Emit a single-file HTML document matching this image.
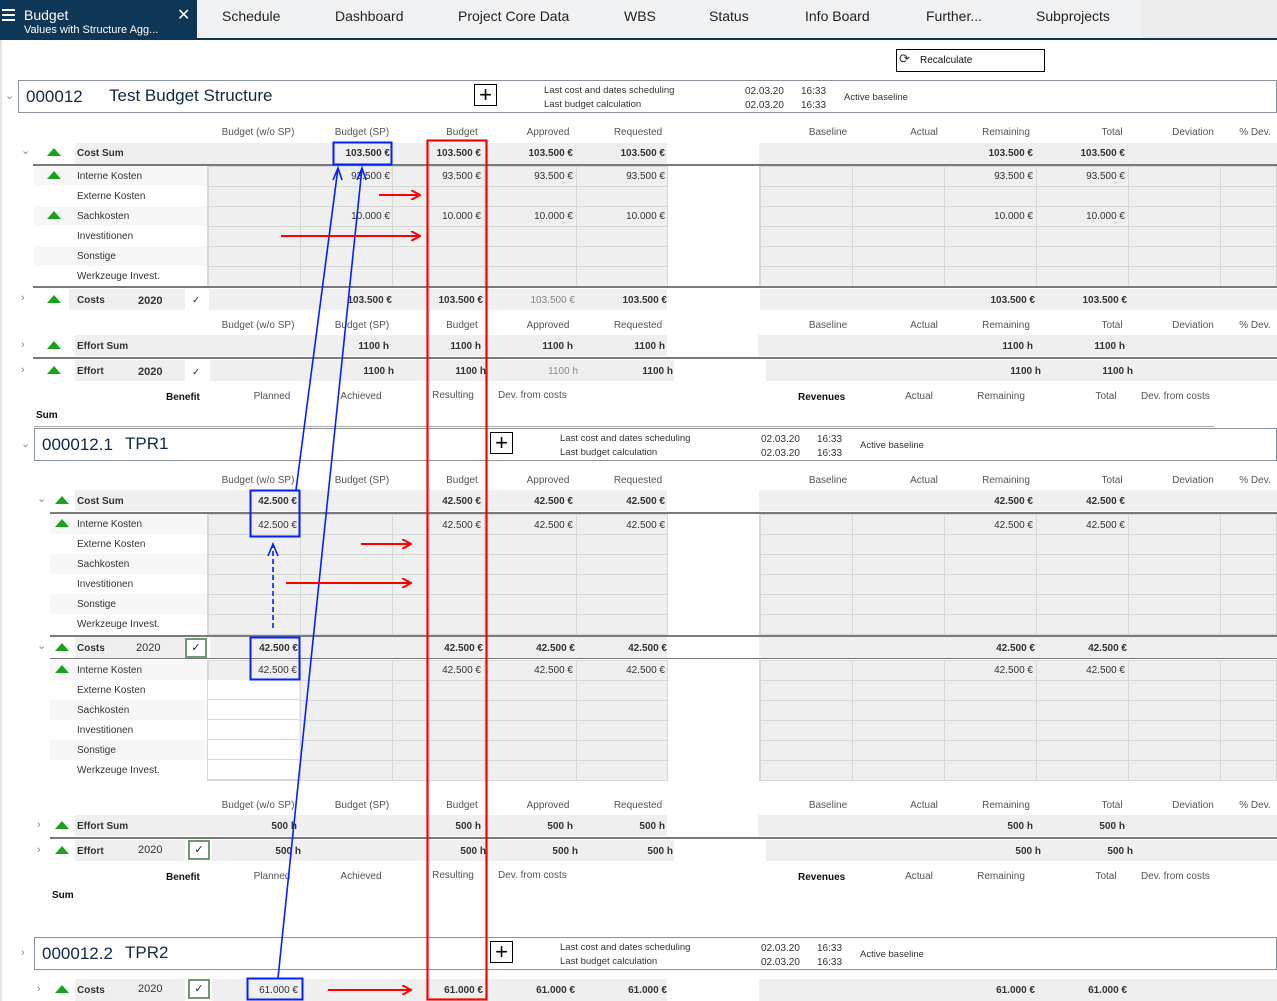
<!DOCTYPE html>
<html><head><meta charset="utf-8"><style>
*{margin:0;padding:0;box-sizing:border-box}
body{width:1277px;height:1001px;position:relative;overflow:hidden;background:#fff;font-family:"Liberation Sans",sans-serif}
.a{position:absolute;white-space:nowrap;font-size:10px;line-height:12px;color:#333;margin-top:1px}
.v{position:absolute;white-space:nowrap;font-size:10px;line-height:12px;color:#333;width:90px;text-align:right;margin-top:1px}
.c{position:absolute;white-space:nowrap;font-size:10px;line-height:12px;color:#555;width:120px;text-align:center;margin-top:1px}
.b{font-weight:bold}
.g{color:#888}
.bg{position:absolute;background:#efefef}
.gr{position:absolute;background-color:#efefef;background-image:repeating-linear-gradient(90deg,#d8d8d8 0 1px,transparent 1px 92px),repeating-linear-gradient(180deg,transparent 0 19px,#d8d8d8 19px 20px);border:1px solid #d8d8d8}
.ln{position:absolute;height:2px;background:#7a7a7a}
.tri{position:absolute;width:0;height:0;border-left:7px solid transparent;border-right:7px solid transparent;border-bottom:8px solid #1aa31a}
.chev{position:absolute;font-size:11px;color:#888;line-height:12px}
.box{position:absolute;border:1px solid #8a929c;background:#fff}
.plus{position:absolute;width:23px;height:22px;border:1.5px solid #000;font-size:22px;line-height:19px;text-align:center;color:#000}
.cb{position:absolute;width:22px;height:20px;border:2px solid #6f9a6f;background:#fff;font-size:11px;text-align:center;line-height:16px;color:#222}
.lab{position:absolute;height:20px}
</style></head><body>
<div style="position:absolute;left:0;top:0;width:1277px;height:38px;background:#f1f2f4"></div>
<div style="position:absolute;left:1141px;top:0;width:136px;height:38px;background:#ececec"></div>
<div style="position:absolute;left:0;top:0;width:197px;height:38px;background:#0e3657"></div>
<div style="position:absolute;left:0;top:38px;width:1277px;height:2px;background:#0e3657"></div>
<div style="position:absolute;left:2px;top:9px;width:13px;height:2px;background:#fff;box-shadow:0 5px 0 #fff,0 10px 0 #fff"></div>
<div class="a" style="left:24px;top:6px;font-size:14px;line-height:16px;color:#fff">Budget</div>
<div class="a" style="left:24px;top:23px;font-size:11px;line-height:12px;color:#fff">Values with Structure Agg...</div>
<div class="a" style="left:177px;top:6px;font-size:16px;line-height:18px;color:#fff">✕</div>
<div class="a" style="left:222px;top:7px;font-size:14px;line-height:16px;color:#222">Schedule</div>
<div class="a" style="left:335px;top:7px;font-size:14px;line-height:16px;color:#222">Dashboard</div>
<div class="a" style="left:458px;top:7px;font-size:14px;line-height:16px;color:#222">Project Core Data</div>
<div class="a" style="left:624px;top:7px;font-size:14px;line-height:16px;color:#222">WBS</div>
<div class="a" style="left:709px;top:7px;font-size:14px;line-height:16px;color:#222">Status</div>
<div class="a" style="left:805px;top:7px;font-size:14px;line-height:16px;color:#222">Info Board</div>
<div class="a" style="left:926px;top:7px;font-size:14px;line-height:16px;color:#222">Further...</div>
<div class="a" style="left:1036px;top:7px;font-size:14px;line-height:16px;color:#222">Subprojects</div>
<div style="position:absolute;left:0;top:40px;width:2px;height:961px;background:#e6e6e6"></div>
<div style="position:absolute;left:896px;top:49px;width:149px;height:23px;border:1.5px solid #000"></div>
<div class="a" style="left:899px;top:52px;font-size:13px;color:#333">⟳</div>
<div class="a" style="left:920px;top:54px;color:#111">Recalculate</div>

<div class="chev" style="left:5px;top:90px">⌄</div>
<div class="box" style="left:18px;top:80px;width:1259px;height:33px"></div>
<div class="a" style="left:26px;top:86px;font-size:17px;line-height:19px;color:#0e2a44">000012</div>
<div class="a" style="left:109px;top:85px;font-size:17px;line-height:19px;color:#0e2a44">Test Budget Structure</div>
<div class="plus" style="left:474px;top:84px">+</div>
<div class="a" style="left:544px;top:84px;font-size:9.5px">Last cost and dates scheduling</div>
<div class="a" style="left:544px;top:98px;font-size:9.5px">Last budget calculation</div>
<div class="a" style="left:745px;top:85px">02.03.20</div><div class="a" style="left:801px;top:85px">16:33</div>
<div class="a" style="left:745px;top:99px">02.03.20</div><div class="a" style="left:801px;top:99px">16:33</div>
<div class="a" style="left:844px;top:91px;font-size:9.5px">Active baseline</div>

<div class="c" style="left:198px;top:126px">Budget (w/o SP)</div>
<div class="c" style="left:302px;top:126px">Budget (SP)</div>
<div class="c" style="left:402px;top:126px">Budget</div>
<div class="c" style="left:488px;top:126px">Approved</div>
<div class="c" style="left:578px;top:126px">Requested</div>
<div class="c" style="left:768px;top:126px">Baseline</div>
<div class="c" style="left:864px;top:126px">Actual</div>
<div class="c" style="left:946px;top:126px">Remaining</div>
<div class="c" style="left:1052px;top:126px">Total</div>
<div class="c" style="left:1133px;top:126px">Deviation</div>
<div class="c" style="left:1195px;top:126px">% Dev.</div>

<div class="bg" style="left:75px;top:143px;width:592px;height:21px"></div>
<div class="bg" style="left:759px;top:143px;width:518px;height:21px"></div>
<div class="chev" style="left:21px;top:145px">⌄</div>
<div class="tri" style="left:47px;top:148px"></div>
<div class="a b" style="left:77px;top:147px">Cost Sum</div>
<div class="v b" style="left:300px;top:147px">103.500 €</div>
<div class="v b" style="left:391px;top:147px">103.500 €</div>
<div class="v b" style="left:483px;top:147px">103.500 €</div>
<div class="v b" style="left:575px;top:147px">103.500 €</div>
<div class="v b" style="left:943px;top:147px">103.500 €</div>
<div class="v b" style="left:1035px;top:147px">103.500 €</div>
<div class="ln" style="left:33px;top:164px;width:1244px"></div>
<div class="lab" style="left:34px;top:166px;width:173px;background:#f7f7f7"></div>
<div class="lab" style="left:34px;top:206px;width:173px;background:#f7f7f7"></div>
<div class="lab" style="left:34px;top:246px;width:173px;background:#f7f7f7"></div>
<div class="gr" style="left:207px;top:166px;width:461px;height:121px"></div>
<div class="gr" style="left:759px;top:166px;width:518px;height:121px"></div>
<div class="tri" style="left:47px;top:171px"></div>
<div class="tri" style="left:47px;top:211px"></div>
<div class="a" style="left:77px;top:170px">Interne Kosten</div>
<div class="a" style="left:77px;top:190px">Externe Kosten</div>
<div class="a" style="left:77px;top:210px">Sachkosten</div>
<div class="a" style="left:77px;top:230px">Investitionen</div>
<div class="a" style="left:77px;top:250px">Sonstige</div>
<div class="a" style="left:77px;top:270px">Werkzeuge Invest.</div>
<div class="v" style="left:300px;top:170px">93.500 €</div>
<div class="v" style="left:391px;top:170px">93.500 €</div>
<div class="v" style="left:483px;top:170px">93.500 €</div>
<div class="v" style="left:575px;top:170px">93.500 €</div>
<div class="v" style="left:943px;top:170px">93.500 €</div>
<div class="v" style="left:1035px;top:170px">93.500 €</div>
<div class="v" style="left:300px;top:210px">10.000 €</div>
<div class="v" style="left:391px;top:210px">10.000 €</div>
<div class="v" style="left:483px;top:210px">10.000 €</div>
<div class="v" style="left:575px;top:210px">10.000 €</div>
<div class="v" style="left:943px;top:210px">10.000 €</div>
<div class="v" style="left:1035px;top:210px">10.000 €</div>
<div class="ln" style="left:33px;top:286px;width:1244px"></div>
<div class="bg" style="left:69px;top:289px;width:116px;height:21px"></div>
<div class="bg" style="left:209px;top:289px;width:458px;height:21px"></div>
<div class="bg" style="left:760px;top:289px;width:517px;height:21px"></div>
<div class="chev" style="left:21px;top:292px">›</div>
<div class="tri" style="left:47px;top:295px"></div>
<div class="a b" style="left:77px;top:294px">Costs</div>
<div class="a b" style="left:138px;top:294px;font-size:11px">2020</div>
<div class="a" style="left:192px;top:294px">✓</div>
<div class="v b" style="left:302px;top:294px">103.500 €</div>
<div class="v b" style="left:393px;top:294px">103.500 €</div>
<div class="v g" style="left:485px;top:294px">103.500 €</div>
<div class="v b" style="left:577px;top:294px">103.500 €</div>
<div class="v b" style="left:945px;top:294px">103.500 €</div>
<div class="v b" style="left:1037px;top:294px">103.500 €</div>
<div class="c" style="left:198px;top:319px">Budget (w/o SP)</div>
<div class="c" style="left:302px;top:319px">Budget (SP)</div>
<div class="c" style="left:402px;top:319px">Budget</div>
<div class="c" style="left:488px;top:319px">Approved</div>
<div class="c" style="left:578px;top:319px">Requested</div>
<div class="c" style="left:768px;top:319px">Baseline</div>
<div class="c" style="left:864px;top:319px">Actual</div>
<div class="c" style="left:946px;top:319px">Remaining</div>
<div class="c" style="left:1052px;top:319px">Total</div>
<div class="c" style="left:1133px;top:319px">Deviation</div>
<div class="c" style="left:1195px;top:319px">% Dev.</div>
<div class="bg" style="left:75px;top:335px;width:592px;height:21px"></div>
<div class="bg" style="left:758px;top:335px;width:519px;height:21px"></div>
<div class="chev" style="left:21px;top:339px">›</div>
<div class="tri" style="left:47px;top:341px"></div>
<div class="a b" style="left:77px;top:340px">Effort Sum</div>
<div class="v b" style="left:299px;top:340px">1100 h</div>
<div class="v b" style="left:391px;top:340px">1100 h</div>
<div class="v b" style="left:483px;top:340px">1100 h</div>
<div class="v b" style="left:575px;top:340px">1100 h</div>
<div class="v b" style="left:943px;top:340px">1100 h</div>
<div class="v b" style="left:1035px;top:340px">1100 h</div>
<div class="ln" style="left:33px;top:357px;width:1244px"></div>
<div class="bg" style="left:75px;top:360px;width:110px;height:21px"></div>
<div class="bg" style="left:210px;top:360px;width:464px;height:21px"></div>
<div class="bg" style="left:766px;top:360px;width:511px;height:21px"></div>
<div class="chev" style="left:21px;top:364px">›</div>
<div class="tri" style="left:47px;top:366px"></div>
<div class="a b" style="left:77px;top:365px">Effort</div>
<div class="a b" style="left:138px;top:365px;font-size:11px">2020</div>
<div class="a" style="left:192px;top:366px">✓</div>
<div class="v b" style="left:304px;top:365px">1100 h</div>
<div class="v b" style="left:396px;top:365px">1100 h</div>
<div class="v g" style="left:488px;top:365px">1100 h</div>
<div class="v b" style="left:583px;top:365px">1100 h</div>
<div class="v b" style="left:951px;top:365px">1100 h</div>
<div class="v b" style="left:1043px;top:365px">1100 h</div>
<div class="a b" style="left:166px;top:391px;color:#111">Benefit</div>
<div class="c" style="left:212px;top:390px">Planned</div>
<div class="c" style="left:301px;top:390px">Achieved</div>
<div class="c" style="left:393px;top:389px">Resulting</div>
<div class="a" style="left:498px;top:389px;color:#555">Dev. from costs</div>
<div class="a b" style="left:798px;top:391px;color:#111">Revenues</div>
<div class="c" style="left:859px;top:390px">Actual</div>
<div class="c" style="left:941px;top:390px">Remaining</div>
<div class="c" style="left:1046px;top:390px">Total</div>
<div class="a" style="left:1141px;top:390px;color:#555">Dev. from costs</div>
<div class="a b" style="left:36px;top:409px;color:#111">Sum</div>
<div style="position:absolute;left:34px;top:426px;width:1180px;height:1px;background:#aaa"></div>

<div class="chev" style="left:21px;top:438px">⌄</div>
<div class="box" style="left:34px;top:428px;width:1243px;height:33px"></div>
<div class="a" style="left:42px;top:434px;font-size:17px;line-height:19px;color:#0e2a44">000012.1</div>
<div class="a" style="left:125px;top:433px;font-size:17px;line-height:19px;color:#0e2a44">TPR1</div>
<div class="plus" style="left:490px;top:432px">+</div>
<div class="a" style="left:560px;top:432px;font-size:9.5px">Last cost and dates scheduling</div>
<div class="a" style="left:560px;top:446px;font-size:9.5px">Last budget calculation</div>
<div class="a" style="left:761px;top:433px">02.03.20</div><div class="a" style="left:817px;top:433px">16:33</div>
<div class="a" style="left:761px;top:447px">02.03.20</div><div class="a" style="left:817px;top:447px">16:33</div>
<div class="a" style="left:860px;top:439px;font-size:9.5px">Active baseline</div>

<div class="c" style="left:198px;top:474px">Budget (w/o SP)</div>
<div class="c" style="left:302px;top:474px">Budget (SP)</div>
<div class="c" style="left:402px;top:474px">Budget</div>
<div class="c" style="left:488px;top:474px">Approved</div>
<div class="c" style="left:578px;top:474px">Requested</div>
<div class="c" style="left:768px;top:474px">Baseline</div>
<div class="c" style="left:864px;top:474px">Actual</div>
<div class="c" style="left:946px;top:474px">Remaining</div>
<div class="c" style="left:1052px;top:474px">Total</div>
<div class="c" style="left:1133px;top:474px">Deviation</div>
<div class="c" style="left:1195px;top:474px">% Dev.</div>
<div class="bg" style="left:75px;top:490px;width:592px;height:21px"></div>
<div class="bg" style="left:759px;top:490px;width:518px;height:21px"></div>
<div class="chev" style="left:37px;top:493px">⌄</div>
<div class="tri" style="left:55px;top:496px"></div>
<div class="a b" style="left:77px;top:495px">Cost Sum</div>
<div class="v b" style="left:207px;top:495px">42.500 €</div>
<div class="v b" style="left:391px;top:495px">42.500 €</div>
<div class="v b" style="left:483px;top:495px">42.500 €</div>
<div class="v b" style="left:575px;top:495px">42.500 €</div>
<div class="v b" style="left:943px;top:495px">42.500 €</div>
<div class="v b" style="left:1035px;top:495px">42.500 €</div>
<div class="ln" style="left:50px;top:512px;width:1227px"></div>
<div class="lab" style="left:50px;top:514px;width:157px;background:#f7f7f7"></div>
<div class="lab" style="left:50px;top:554px;width:157px;background:#f7f7f7"></div>
<div class="lab" style="left:50px;top:594px;width:157px;background:#f7f7f7"></div>
<div class="gr" style="left:207px;top:514px;width:461px;height:121px"></div>
<div class="gr" style="left:759px;top:514px;width:518px;height:121px"></div>
<div class="tri" style="left:55px;top:519px"></div>
<div class="a" style="left:77px;top:518px">Interne Kosten</div>
<div class="a" style="left:77px;top:538px">Externe Kosten</div>
<div class="a" style="left:77px;top:558px">Sachkosten</div>
<div class="a" style="left:77px;top:578px">Investitionen</div>
<div class="a" style="left:77px;top:598px">Sonstige</div>
<div class="a" style="left:77px;top:618px">Werkzeuge Invest.</div>
<div class="v" style="left:207px;top:519px">42.500 €</div>
<div class="v" style="left:391px;top:519px">42.500 €</div>
<div class="v" style="left:483px;top:519px">42.500 €</div>
<div class="v" style="left:575px;top:519px">42.500 €</div>
<div class="v" style="left:943px;top:519px">42.500 €</div>
<div class="v" style="left:1035px;top:519px">42.500 €</div>
<div class="ln" style="left:50px;top:635px;width:1227px"></div>
<div class="bg" style="left:75px;top:637px;width:110px;height:21px"></div>
<div class="bg" style="left:210px;top:637px;width:457px;height:21px"></div>
<div class="bg" style="left:759px;top:637px;width:518px;height:21px"></div>
<div class="chev" style="left:37px;top:640px">⌄</div>
<div class="tri" style="left:55px;top:643px"></div>
<div class="a b" style="left:77px;top:642px">Costs</div>
<div class="a" style="left:136px;top:641px;font-size:11px">2020</div>
<div class="cb" style="left:185px;top:638px">✓</div>
<div class="v b" style="left:208px;top:642px">42.500 €</div>
<div class="v b" style="left:393px;top:642px">42.500 €</div>
<div class="v b" style="left:485px;top:642px">42.500 €</div>
<div class="v b" style="left:577px;top:642px">42.500 €</div>
<div class="v b" style="left:945px;top:642px">42.500 €</div>
<div class="v b" style="left:1037px;top:642px">42.500 €</div>
<div class="ln" style="left:50px;top:658px;width:1227px;height:1px"></div>
<div class="lab" style="left:50px;top:660px;width:157px;background:#f7f7f7"></div>
<div class="lab" style="left:50px;top:700px;width:157px;background:#f7f7f7"></div>
<div class="lab" style="left:50px;top:740px;width:157px;background:#f7f7f7"></div>
<div class="gr" style="left:207px;top:660px;width:461px;height:121px"></div>
<div style="position:absolute;left:208px;top:680px;width:91px;height:100px;background:#fff;background-image:repeating-linear-gradient(180deg,transparent 0 19px,#d8d8d8 19px 20px)"></div>
<div class="gr" style="left:759px;top:660px;width:518px;height:121px"></div>
<div class="tri" style="left:55px;top:665px"></div>
<div class="a" style="left:77px;top:664px">Interne Kosten</div>
<div class="a" style="left:77px;top:684px">Externe Kosten</div>
<div class="a" style="left:77px;top:704px">Sachkosten</div>
<div class="a" style="left:77px;top:724px">Investitionen</div>
<div class="a" style="left:77px;top:744px">Sonstige</div>
<div class="a" style="left:77px;top:764px">Werkzeuge Invest.</div>
<div class="v" style="left:207px;top:664px">42.500 €</div>
<div class="v" style="left:391px;top:664px">42.500 €</div>
<div class="v" style="left:483px;top:664px">42.500 €</div>
<div class="v" style="left:575px;top:664px">42.500 €</div>
<div class="v" style="left:943px;top:664px">42.500 €</div>
<div class="v" style="left:1035px;top:664px">42.500 €</div>
<div class="c" style="left:198px;top:799px">Budget (w/o SP)</div>
<div class="c" style="left:302px;top:799px">Budget (SP)</div>
<div class="c" style="left:402px;top:799px">Budget</div>
<div class="c" style="left:488px;top:799px">Approved</div>
<div class="c" style="left:578px;top:799px">Requested</div>
<div class="c" style="left:768px;top:799px">Baseline</div>
<div class="c" style="left:864px;top:799px">Actual</div>
<div class="c" style="left:946px;top:799px">Remaining</div>
<div class="c" style="left:1052px;top:799px">Total</div>
<div class="c" style="left:1133px;top:799px">Deviation</div>
<div class="c" style="left:1195px;top:799px">% Dev.</div>
<div class="bg" style="left:75px;top:815px;width:592px;height:21px"></div>
<div class="bg" style="left:758px;top:815px;width:519px;height:21px"></div>
<div class="chev" style="left:37px;top:819px">›</div>
<div class="tri" style="left:55px;top:821px"></div>
<div class="a b" style="left:77px;top:820px">Effort Sum</div>
<div class="v b" style="left:207px;top:820px">500 h</div>
<div class="v b" style="left:391px;top:820px">500 h</div>
<div class="v b" style="left:483px;top:820px">500 h</div>
<div class="v b" style="left:575px;top:820px">500 h</div>
<div class="v b" style="left:943px;top:820px">500 h</div>
<div class="v b" style="left:1035px;top:820px">500 h</div>
<div class="ln" style="left:50px;top:837px;width:1227px"></div>
<div class="bg" style="left:75px;top:840px;width:110px;height:21px"></div>
<div class="bg" style="left:212px;top:840px;width:462px;height:21px"></div>
<div class="bg" style="left:766px;top:840px;width:511px;height:21px"></div>
<div class="chev" style="left:37px;top:844px">›</div>
<div class="tri" style="left:55px;top:846px"></div>
<div class="a b" style="left:77px;top:845px">Effort</div>
<div class="a" style="left:138px;top:843px;font-size:11px">2020</div>
<div class="cb" style="left:188px;top:840px">✓</div>
<div class="v b" style="left:211px;top:845px">500 h</div>
<div class="v b" style="left:396px;top:845px">500 h</div>
<div class="v b" style="left:488px;top:845px">500 h</div>
<div class="v b" style="left:583px;top:845px">500 h</div>
<div class="v b" style="left:951px;top:845px">500 h</div>
<div class="v b" style="left:1043px;top:845px">500 h</div>
<div class="a b" style="left:166px;top:871px;color:#111">Benefit</div>
<div class="c" style="left:212px;top:870px">Planned</div>
<div class="c" style="left:301px;top:870px">Achieved</div>
<div class="c" style="left:393px;top:869px">Resulting</div>
<div class="a" style="left:498px;top:869px;color:#555">Dev. from costs</div>
<div class="a b" style="left:798px;top:871px;color:#111">Revenues</div>
<div class="c" style="left:859px;top:870px">Actual</div>
<div class="c" style="left:941px;top:870px">Remaining</div>
<div class="c" style="left:1046px;top:870px">Total</div>
<div class="a" style="left:1141px;top:870px;color:#555">Dev. from costs</div>
<div class="a b" style="left:52px;top:889px;color:#111">Sum</div>

<div class="chev" style="left:21px;top:947px">›</div>
<div class="box" style="left:34px;top:937px;width:1243px;height:33px"></div>
<div class="a" style="left:42px;top:943px;font-size:17px;line-height:19px;color:#0e2a44">000012.2</div>
<div class="a" style="left:125px;top:942px;font-size:17px;line-height:19px;color:#0e2a44">TPR2</div>
<div class="plus" style="left:490px;top:941px">+</div>
<div class="a" style="left:560px;top:941px;font-size:9.5px">Last cost and dates scheduling</div>
<div class="a" style="left:560px;top:955px;font-size:9.5px">Last budget calculation</div>
<div class="a" style="left:761px;top:942px">02.03.20</div><div class="a" style="left:817px;top:942px">16:33</div>
<div class="a" style="left:761px;top:956px">02.03.20</div><div class="a" style="left:817px;top:956px">16:33</div>
<div class="a" style="left:860px;top:948px;font-size:9.5px">Active baseline</div>
<div class="bg" style="left:75px;top:979px;width:110px;height:22px"></div>
<div class="bg" style="left:212px;top:979px;width:455px;height:22px"></div>
<div class="bg" style="left:759px;top:979px;width:518px;height:22px"></div>
<div class="chev" style="left:37px;top:983px">›</div>
<div class="tri" style="left:55px;top:985px"></div>
<div class="a b" style="left:77px;top:984px">Costs</div>
<div class="a" style="left:138px;top:982px;font-size:11px">2020</div>
<div class="cb" style="left:188px;top:979px">✓</div>
<div class="v" style="left:208px;top:984px">61.000 €</div>
<div class="v b" style="left:393px;top:984px">61.000 €</div>
<div class="v b" style="left:485px;top:984px">61.000 €</div>
<div class="v b" style="left:577px;top:984px">61.000 €</div>
<div class="v b" style="left:945px;top:984px">61.000 €</div>
<div class="v b" style="left:1037px;top:984px">61.000 €</div>

<svg style="position:absolute;left:0;top:0" width="1277" height="1001">
<defs>
<marker id="ar" markerWidth="10" markerHeight="10" refX="9" refY="5" orient="auto" markerUnits="userSpaceOnUse"><path d="M0,0 L9,5 L0,10" fill="none" stroke="#f00" stroke-width="2"/></marker>
</defs>
<rect x="427.5" y="140.5" width="59" height="859" fill="none" stroke="#f00" stroke-width="2.2"/>
<rect x="333.5" y="142.5" width="58" height="22" fill="none" stroke="#0022ff" stroke-width="2"/>
<rect x="250.5" y="490.5" width="49" height="46" fill="none" stroke="#0022ff" stroke-width="2"/>
<rect x="250.5" y="637.5" width="49" height="42" fill="none" stroke="#0022ff" stroke-width="2"/>
<rect x="247.5" y="978.5" width="55" height="21" fill="none" stroke="#0022ff" stroke-width="2"/>
<line x1="296" y1="490" x2="338" y2="168" stroke="#0022ff" stroke-width="1.6"/>
<path d="M333,180 L338,168 L342,180" fill="none" stroke="#0022ff" stroke-width="1.6"/>
<line x1="278" y1="978" x2="362" y2="168" stroke="#0022ff" stroke-width="1.6"/>
<path d="M357,180 L362,168 L366,180" fill="none" stroke="#0022ff" stroke-width="1.6"/>
<line x1="273" y1="628" x2="273" y2="546" stroke="#0022ff" stroke-width="1.6" stroke-dasharray="5,3"/>
<path d="M268,556 L273,544 L278,556" fill="none" stroke="#0022ff" stroke-width="1.6"/>
<line x1="379" y1="195" x2="420" y2="195" stroke="#f00" stroke-width="2" marker-end="url(#ar)"/>
<line x1="281" y1="236" x2="420" y2="236" stroke="#f00" stroke-width="2" marker-end="url(#ar)"/>
<line x1="361" y1="544" x2="411" y2="544" stroke="#f00" stroke-width="2" marker-end="url(#ar)"/>
<line x1="286" y1="583" x2="411" y2="583" stroke="#f00" stroke-width="2" marker-end="url(#ar)"/>
<line x1="328" y1="990" x2="411" y2="990" stroke="#f00" stroke-width="2" marker-end="url(#ar)"/>
</svg>
</body></html>
